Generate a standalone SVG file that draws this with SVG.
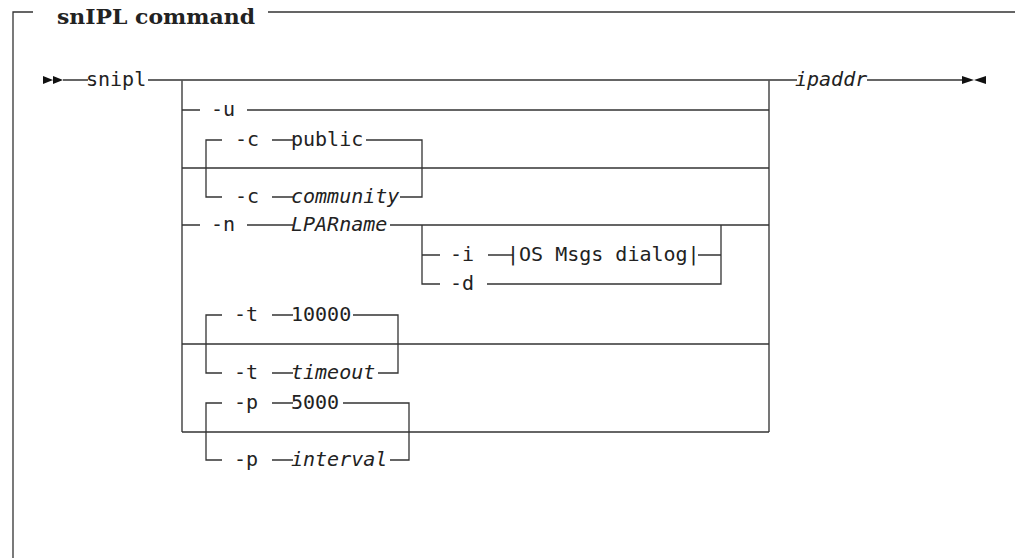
<svg xmlns="http://www.w3.org/2000/svg" width="1015" height="558" viewBox="0 0 1015 558">
<style>
.ln{stroke:#333;stroke-width:1.3;fill:none}
.bx{stroke:#555;stroke-width:1.6;fill:none}
.t{font-family:"DejaVu Sans Mono","Liberation Mono",monospace;font-size:20px;fill:#222}
.i{font-style:italic}
.title{font-family:"DejaVu Serif","Liberation Serif",serif;font-weight:bold;font-size:21px;fill:#222}
.ar{fill:#111}
</style>
<rect width="1015" height="558" fill="#fff"/>
<g id="frame">
<path class="ln" d="M13,558 V12 H33 M268,12 H1015"/>
<text class="title" x="57" y="24" textLength="198" lengthAdjust="spacingAndGlyphs">snIPL command</text>
</g>
<g id="connectors">
<path class="ln" d="M63,80 H88 M148,80 H797"/>
<path class="bx" d="M182,80 V432 M769,80 V432"/>
<path class="ln" d="M182,110 H200 M247,110 H769"/>
<path class="ln" d="M182,168 H769"/>
<path class="ln" d="M222,140 H206 V197 H222 M272,140 H293 M366,140 H422 V197 H400 M272,197 H293"/>
<path class="ln" d="M182,225 H200 M247,225 H293 M390,225 H769"/>
<path class="ln" d="M422,225 V284 H440 M422,255 H440 M488,255 H513 M698,255 H721 M721,225 V284 H487"/>
<path class="ln" d="M222,315 H206 V373 H222 M272,315 H293 M353,315 H398 V373 H378 M272,373 H293"/>
<path class="ln" d="M182,344 H769"/>
<path class="ln" d="M222,403 H206 V460 H222 M272,403 H293 M343,403 H409 V460 H390 M272,460 H293"/>
<path class="ln" d="M182,432 H769"/>
<path class="ln" d="M867,80 H962"/>
</g>
<g id="start"><path class="ar" d="M43,76 L53,80 L43,84 Z M53,76 L63,80 L53,84 Z"/></g>
<g id="end"><path class="ar" d="M962,76 L974,80 L962,84 Z M986,76 L974,80 L986,84 Z"/></g>
<g id="snipl"><text class="t" x="86" y="86">snipl</text></g>
<g id="opt-u"><text class="t" x="211" y="116">-u</text></g>
<g id="opt-c-public"><text class="t" x="235" y="146">-c</text><text class="t" x="291" y="146">public</text></g>
<g id="opt-c-community"><text class="t" x="235" y="203">-c</text><text class="t i" x="291" y="203">community</text></g>
<g id="opt-n"><text class="t" x="211" y="231">-n</text><text class="t i" x="291" y="231">LPARname</text></g>
<g id="opt-i"><text class="t" x="450" y="261">-i</text><text class="t" x="507" y="261">|OS Msgs dialog|</text></g>
<g id="opt-d"><text class="t" x="450" y="290">-d</text></g>
<g id="opt-t-default"><text class="t" x="234" y="321">-t</text><text class="t" x="291" y="321">10000</text></g>
<g id="opt-t-timeout"><text class="t" x="234" y="379">-t</text><text class="t i" x="291" y="379">timeout</text></g>
<g id="opt-p-default"><text class="t" x="234" y="409">-p</text><text class="t" x="291" y="409">5000</text></g>
<g id="opt-p-interval"><text class="t" x="234" y="466">-p</text><text class="t i" x="291" y="466">interval</text></g>
<g id="ipaddr"><text class="t i" x="795" y="86">ipaddr</text></g>
</svg>
